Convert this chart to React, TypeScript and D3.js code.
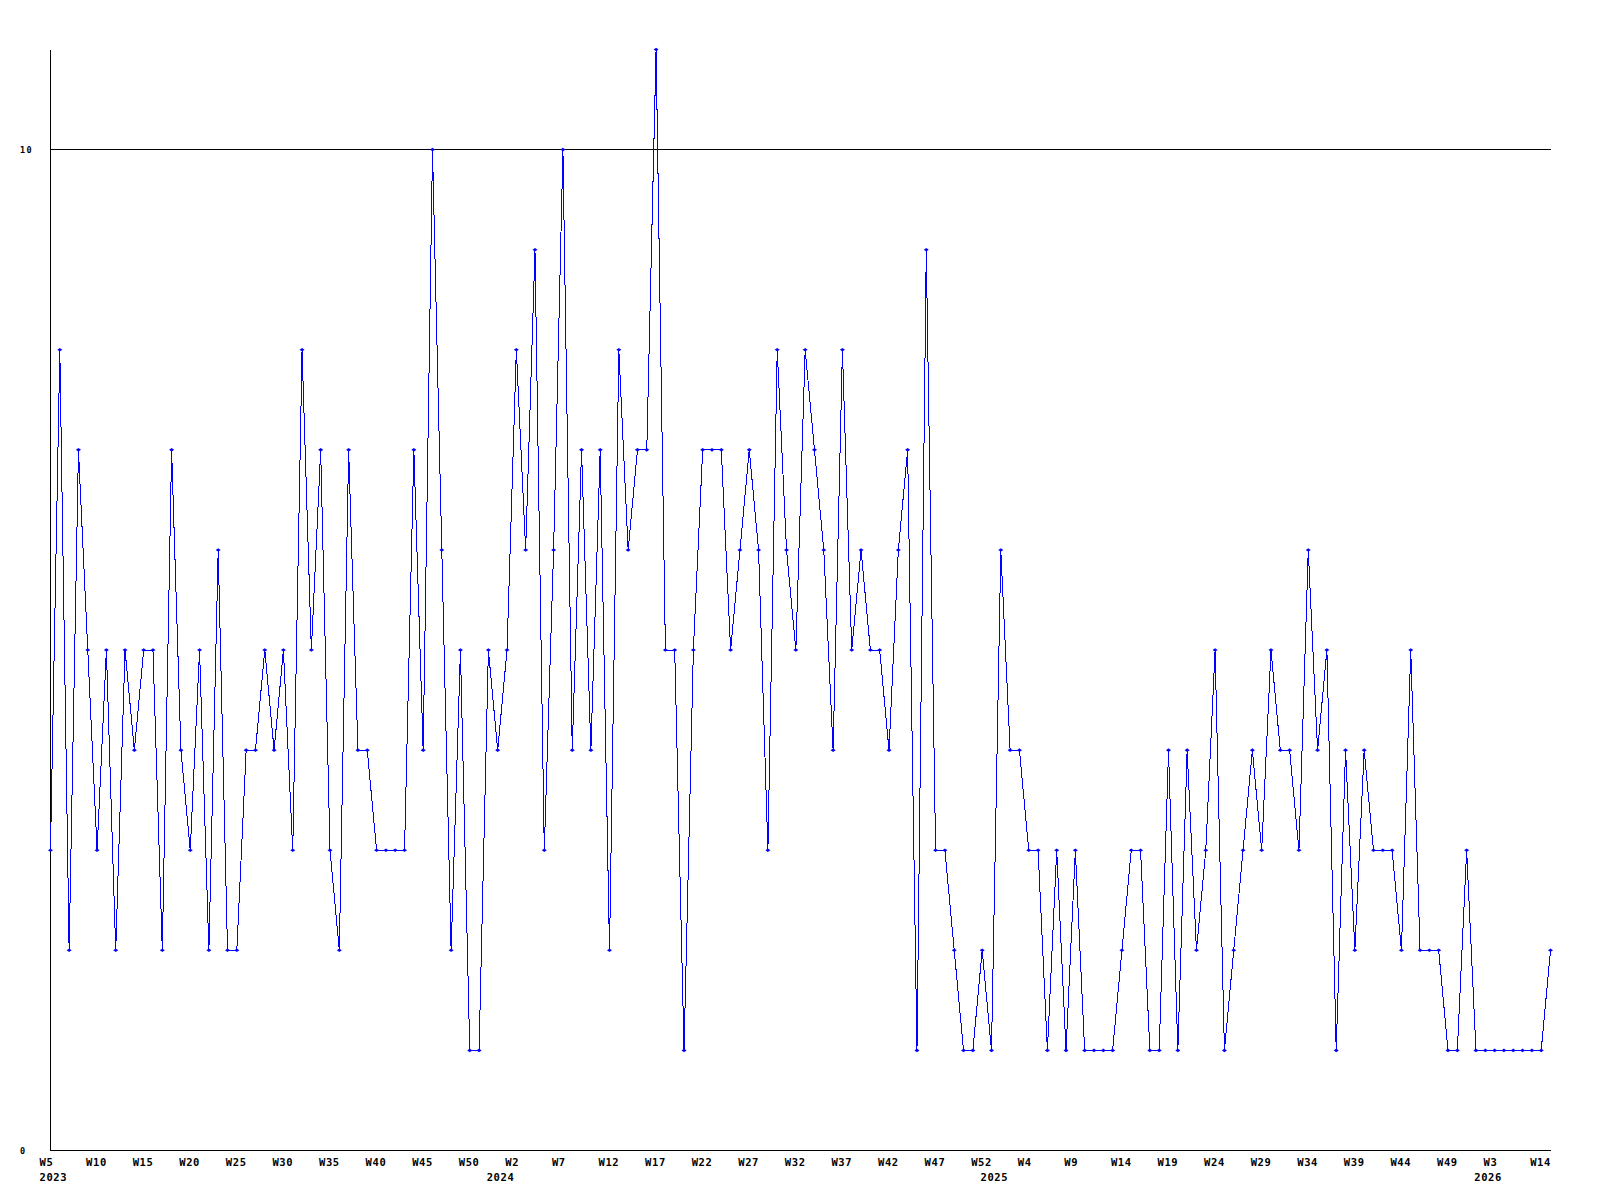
import React, { useEffect } from "react";
import * as d3 from "d3";

// Weekly counts, one per point (W5 2023 … W14 2026)
const values: number[] = [
  3, 8, 2, 7, 5, 3, 5, 2, 5, 4,
  5, 5, 2, 7, 4, 3, 5, 2, 6, 2,
  2, 4, 4, 5, 4, 5, 3, 8, 5, 7,
  3, 2, 7, 4, 4, 3, 3, 3, 3, 7,
  4, 10, 6, 2, 5, 1, 1, 5, 4, 5,
  8, 6, 9, 3, 6, 10, 4, 7, 4, 7,
  2, 8, 6, 7, 7, 11, 5, 5, 1, 5,
  7, 7, 7, 5, 6, 7, 6, 3, 8, 6,
  5, 8, 7, 6, 4, 8, 5, 6, 5, 5,
  4, 6, 7, 1, 9, 3, 3, 2, 1, 1,
  2, 1, 6, 4, 4, 3, 3, 1, 3, 1,
  3, 1, 1, 1, 1, 2, 3, 3, 1, 1,
  4, 1, 4, 2, 3, 5, 1, 2, 3, 4,
  3, 5, 4, 4, 3, 6, 4, 5, 1, 4,
  2, 4, 3, 3, 3, 2, 5, 2, 2, 2,
  1, 1, 3, 1, 1, 1, 1, 1, 1, 1,
  1, 2,
];

// Week tick labels, one on every 5th point
const tickLabels: string[] = [
  "W5", "W10", "W15", "W20", "W25", "W30", "W35", "W40", "W45", "W50",
  "W2", "W7", "W12", "W17", "W22", "W27", "W32", "W37", "W42", "W47",
  "W52", "W4", "W9", "W14", "W19", "W24", "W29", "W34", "W39", "W44",
  "W49", "W3", "W14",
];
const tickEvery = 5;

// Year labels and the point index where each year starts
const yearLabels: string[] = ["2023", "2024", "2025", "2026"];
const yearStartIndex: number[] = [0, 48, 101, 154];

const yTicks: number[] = [0, 10];
const yMax = 11;

export default function App() {
  useEffect(() => {
    document.body.style.margin = "0";
  }, []);

  const W = 1600;
  const H = 1200;
  const x = d3.scaleLinear().domain([0, values.length - 1]).range([50.5, 1550.5]);
  const y = d3.scaleLinear().domain([0, yMax]).range([1150.5, 49.5]);

  const line = d3
    .line<number>()
    .x((_, i) => x(i))
    .y((d) => y(d));

  const xFont = "'DejaVu Sans Mono', 'Liberation Mono', monospace";

  return (
    <svg
      width={W}
      height={H}
      style={{ display: "block", background: "#fff" }}
      xmlns="http://www.w3.org/2000/svg"
    >
      <rect x={0} y={0} width={W} height={H} fill="#fff" />
      {/* gridline at 10 */}
      {yTicks
        .filter((t) => t !== 0)
        .map((t) => (
          <line
            key={"g" + t}
            x1={x(0)}
            x2={x(values.length - 1)}
            y1={y(t)}
            y2={y(t)}
            stroke="#000"
            strokeWidth={1}
            shapeRendering="crispEdges"
          />
        ))}
      {/* axes */}
      <line x1={x(0)} x2={x(0)} y1={y(yMax)} y2={y(0)} stroke="#000" strokeWidth={1} shapeRendering="crispEdges" />
      <line x1={x(0)} x2={x(values.length - 1)} y1={y(0)} y2={y(0)} stroke="#000" strokeWidth={1} shapeRendering="crispEdges" />

      {/* y labels */}
      {yTicks.map((t) => (
        <text
          key={"y" + t}
          x={20}
          y={y(t) + 3}
          fontFamily={xFont}
          fontWeight="bold"
          fontSize={8.5}
          letterSpacing={1.3}
          fill="#000"
        >
          {t}
        </text>
      ))}

      {/* x week labels */}
      {tickLabels.map((lab, k) => (
        <text
          key={"x" + k}
          x={x(k * tickEvery) - 11}
          y={1166}
          fontFamily={xFont}
          fontWeight="bold"
          fontSize={10.5}
          letterSpacing={0.6}
          fill="#000"
        >
          {lab}
        </text>
      ))}

      {/* year labels */}
      {yearLabels.map((lab, k) => (
        <text
          key={"yr" + k}
          x={x(yearStartIndex[k]) - 11}
          y={1181}
          fontFamily={xFont}
          fontWeight="bold"
          fontSize={10.5}
          letterSpacing={0.6}
          fill="#000"
        >
          {lab}
        </text>
      ))}

      {/* series line */}
      <path
        d={line(values) || ""}
        fill="none"
        stroke="#0000ff"
        strokeWidth={1}
        shapeRendering="crispEdges"
      />

      {/* markers */}
      {values.map((v, i) => {
        const cx = x(i);
        const cy = y(v);
        return (
          <path
            key={"m" + i}
            d={`M${cx - 2.5},${cy} L${cx},${cy - 1.8} L${cx + 2.5},${cy} L${cx},${cy + 1.8} Z`}
            fill="#0000ff"
          />
        );
      })}
    </svg>
  );
}
